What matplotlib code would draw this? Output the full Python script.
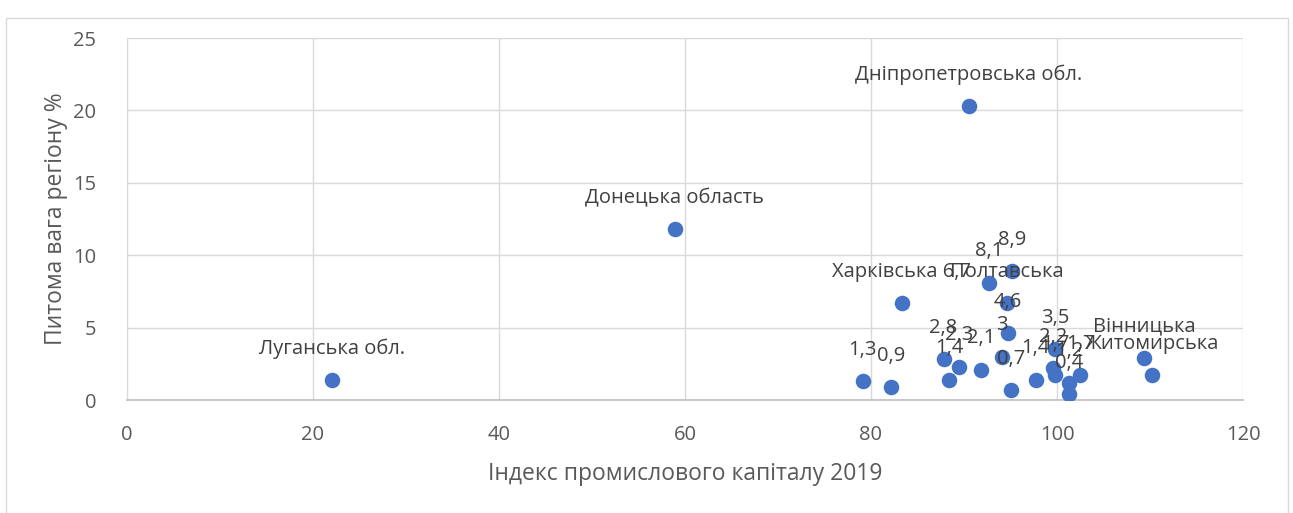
import matplotlib.pyplot as plt
from matplotlib.patches import Rectangle

plt.rcParams['font.family'] = ['Open Sans', 'DejaVu Sans']

# index of industrial capital 2019 vs region share, %
x = [22.0, 58.9, 90.5, 83.3, 92.7, 95.2, 94.6, 94.7, 109.4, 110.2,
     79.1, 82.2, 87.8, 88.4, 89.5, 91.8, 94.1, 95.1, 97.7, 99.8,
     99.6, 99.8, 101.3, 101.3, 102.5]
y = [1.4, 11.8, 20.3, 6.7, 8.1, 8.9, 6.7, 4.6, 2.9, 1.7,
     1.3, 0.9, 2.8, 1.4, 2.3, 2.1, 3.0, 0.7, 1.4, 3.5,
     2.2, 1.7, 1.2, 0.4, 1.7]
labels = ['Луганська обл.', 'Донецька область', 'Дніпропетровська обл.',
          'Харківська 6,7', '8,1', '8,9', 'Полтавська', '4,6', 'Вінницька',
          'Житомирська', '1,3', '0,9', '2,8', '1,4', '2,3', '2,1', '3', '0,7',
          '1,4', '3,5', '2,2', '1,7', '1,2', '0,4', '1,7']

xticks = [0, 20, 40, 60, 80, 100, 120]
yticks = [0, 5, 10, 15, 20, 25]

txt = '#595959'
fig = plt.figure(figsize=(12.93, 5.13), dpi=100)
ax = fig.add_axes([127 / 1293, 1 - 400 / 513, (1243 - 127) / 1293, (400 - 38) / 513])

ax.scatter(x, y, s=125, color='#4472C4', zorder=3, linewidths=0)
for xi, yi, lab in zip(x, y, labels):
    ax.annotate(lab, (xi, yi), xytext=(0, 22.5), textcoords='offset points',
                ha='center', va='center', fontsize=14.5, color='#404040', zorder=4)

ax.set_xlim(0, 120)
ax.set_ylim(0, 25)
ax.set_xticks(xticks)
ax.set_yticks(yticks)
ax.tick_params(length=0, labelsize=14.5, labelcolor=txt)
ax.tick_params(axis='x', pad=18)
ax.tick_params(axis='y', pad=22)
ax.grid(True, color='#D9D9D9', linewidth=1)
ax.set_axisbelow(True)
for s in ['top', 'right']:
    ax.spines[s].set_visible(False)
ax.spines['left'].set_color('#D9D9D9')
ax.spines['bottom'].set_color('#BFBFBF')
ax.spines['bottom'].set_linewidth(1.2)

ax.set_xlabel('Індекс промислового капіталу 2019', fontsize=16.5, color=txt, labelpad=12)
ax.set_ylabel('Питома вага регіону %', fontsize=16.5, color=txt, labelpad=4)

fig.patches.append(Rectangle((6 / 1293, -0.05), 1282 / 1293, 1.03 - 8 / 513,
                             transform=fig.transFigure, fill=False,
                             edgecolor='#D9D9D9', linewidth=1))

plt.savefig('out.png')
